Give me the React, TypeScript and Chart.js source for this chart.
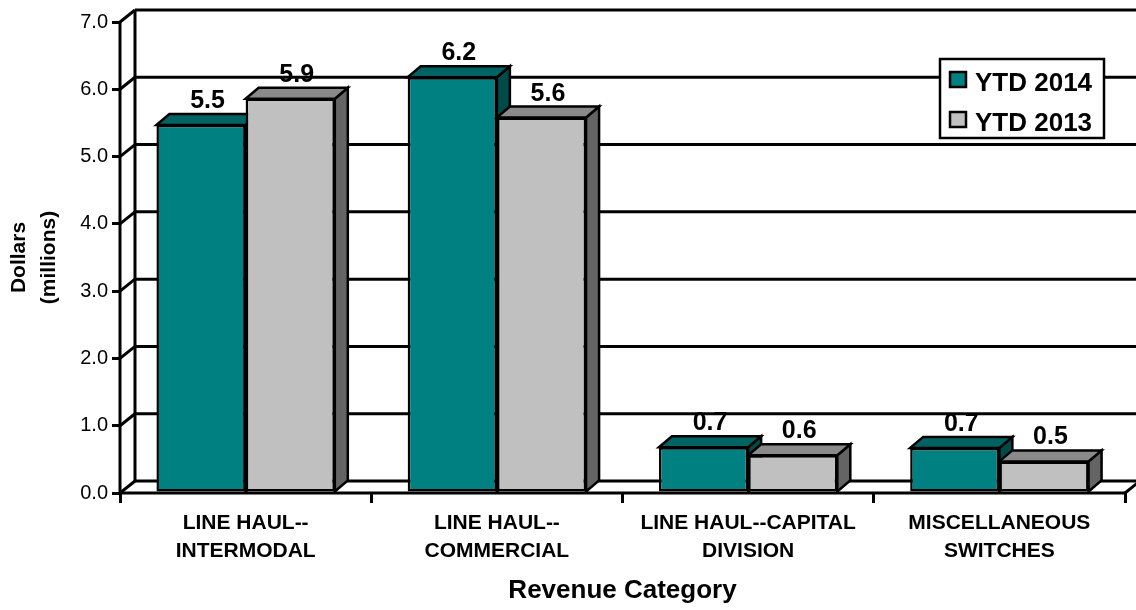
import React, { useEffect, useRef } from 'react';
import { Chart, registerables } from 'chart.js';

Chart.register(...registerables);

const categories = [
  ['LINE HAUL--', 'INTERMODAL'],
  ['LINE HAUL--', 'COMMERCIAL'],
  ['LINE HAUL--CAPITAL', 'DIVISION'],
  ['MISCELLANEOUS', 'SWITCHES'],
];
const seriesNames = ['YTD 2014', 'YTD 2013'];
const ytd2014 = [5.47, 6.18, 0.68, 0.67];
const ytd2013 = [5.86, 5.58, 0.56, 0.47];
const yTicks = [0, 1, 2, 3, 4, 5, 6, 7];

const FONT = '"Liberation Sans", Arial, Helvetica, sans-serif';
const FRONT = ['#008080', '#C0C0C0'];
const TOPC = ['#006363', '#8a8a8a'];
const SIDEC = ['#004a4a', '#646464'];
const WALL_DX = 15;
const WALL_DY = -12;
const BAR_DX = 13;
const BAR_DY = -11;

const threeD = {
  id: 'threeD',
  beforeDatasetsDraw(chart: any) {
    const ctx = chart.ctx;
    const { left, right, bottom } = chart.chartArea;
    const ys = chart.scales.y;
    ctx.save();
    ctx.strokeStyle = '#000';
    ctx.lineWidth = 3;
    const line = (x1: number, y1: number, x2: number, y2: number) => {
      ctx.beginPath();
      ctx.moveTo(x1, y1);
      ctx.lineTo(x2, y2);
      ctx.stroke();
    };
    const topPx = ys.getPixelForValue(yTicks[yTicks.length - 1]);
    for (const v of yTicks) {
      const py = ys.getPixelForValue(v);
      line(left, py, left + WALL_DX, py + WALL_DY);
      line(left + WALL_DX, py + WALL_DY, chart.width + 10, py + WALL_DY);
    }
    line(left + WALL_DX, topPx + WALL_DY, left + WALL_DX, bottom + WALL_DY);
    line(left, topPx, left, bottom);
    line(left, bottom, right, bottom);
    line(right, bottom, right + WALL_DX, bottom + WALL_DY);

    ctx.lineWidth = 2.5;
    ctx.lineJoin = 'miter';
    const n = categories.length;
    for (let i = 0; i < n; i++) {
      for (let d = 0; d < chart.data.datasets.length; d++) {
        const el = chart.getDatasetMeta(d).data[i];
        const { x, y, width, base } = el.getProps(['x', 'y', 'width', 'base'], true);
        const l = x - width / 2;
        const r = x + width / 2;
        ctx.beginPath();
        ctx.moveTo(r, y);
        ctx.lineTo(r + BAR_DX, y + BAR_DY);
        ctx.lineTo(r + BAR_DX, base + BAR_DY);
        ctx.lineTo(r, base);
        ctx.closePath();
        ctx.fillStyle = SIDEC[d];
        ctx.fill();
        ctx.stroke();
        ctx.beginPath();
        ctx.moveTo(l, y);
        ctx.lineTo(l + BAR_DX, y + BAR_DY);
        ctx.lineTo(r + BAR_DX, y + BAR_DY);
        ctx.lineTo(r, y);
        ctx.closePath();
        ctx.fillStyle = TOPC[d];
        ctx.fill();
        ctx.stroke();
      }
    }
    ctx.restore();
  },
  afterDatasetsDraw(chart: any) {
    const ctx = chart.ctx;
    ctx.save();
    ctx.fillStyle = '#000';
    ctx.font = `bold 25px ${FONT}`;
    ctx.textAlign = 'center';
    ctx.textBaseline = 'alphabetic';
    chart.data.datasets.forEach((ds: any, d: number) => {
      chart.getDatasetMeta(d).data.forEach((el: any, i: number) => {
        const { x, y } = el.getProps(['x', 'y'], true);
        ctx.fillText(Number(ds.data[i]).toFixed(1), x + BAR_DX / 2, y + BAR_DY - 6);
      });
    });
    ctx.restore();
  },
  afterDraw(chart: any) {
    const ctx = chart.ctx;
    const { right, top } = chart.chartArea;
    const bx = right - 185;
    const by = top + 37;
    const bw = 164;
    const bh = 79;
    ctx.save();
    ctx.fillStyle = '#fff';
    ctx.fillRect(bx, by, bw, bh);
    ctx.strokeStyle = '#000';
    ctx.lineWidth = 2.5;
    ctx.strokeRect(bx, by, bw, bh);
    ctx.font = `bold 26px ${FONT}`;
    ctx.textAlign = 'left';
    ctx.textBaseline = 'alphabetic';
    chart.data.datasets.forEach((ds: any, d: number) => {
      const sy = by + 13 + d * 40;
      ctx.fillStyle = FRONT[d];
      ctx.fillRect(bx + 10, sy, 16, 15);
      ctx.strokeRect(bx + 10, sy, 16, 15);
      ctx.fillStyle = '#000';
      ctx.fillText(ds.label, bx + 35, sy + 19);
    });
    ctx.restore();
  },
};

export default function App() {
  const ref = useRef<HTMLCanvasElement | null>(null);
  useEffect(() => {
    document.body.style.margin = '0';
    const canvas = ref.current;
    if (!canvas) return;
    const chart = new Chart(canvas, {
      type: 'bar',
      data: {
        labels: categories,
        datasets: [
          {
            label: seriesNames[0],
            data: ytd2014,
            backgroundColor: FRONT[0],
            borderColor: '#000',
            borderWidth: 2.5,
            borderSkipped: false,
          },
          {
            label: seriesNames[1],
            data: ytd2013,
            backgroundColor: FRONT[1],
            borderColor: '#000',
            borderWidth: 2.5,
            borderSkipped: false,
          },
        ],
      },
      options: {
        responsive: false,
        animation: false,
        layout: { padding: { left: 0, right: 11, top: 22, bottom: 0 } },
        datasets: { bar: { categoryPercentage: 0.71, barPercentage: 1 } },
        plugins: { legend: { display: false }, tooltip: { enabled: false } },
        scales: {
          x: {
            afterFit: (s: any) => {
              s.height = 117;
            },
            border: { display: false },
            grid: {
              drawOnChartArea: false,
              drawTicks: true,
              tickLength: 10,
              color: '#000',
              lineWidth: 3,
            },
            ticks: {
              color: '#000',
              padding: 6,
              maxRotation: 0,
              autoSkip: false,
              font: { family: FONT, size: 21, weight: 'bold', lineHeight: 28 / 21 },
            },
            title: {
              display: true,
              text: 'Revenue Category',
              color: '#000',
              font: { family: FONT, size: 26, weight: 'bold', lineHeight: 1.2 },
              padding: { top: 0, bottom: 3.5 },
            },
          },
          y: {
            min: 0,
            max: 7,
            afterFit: (s: any) => {
              s.width = 120;
            },
            afterBuildTicks: (s: any) => {
              s.ticks = yTicks.map((v) => ({ value: v }));
            },
            border: { display: false },
            grid: {
              drawOnChartArea: false,
              drawTicks: true,
              tickLength: 8,
              color: '#000',
              lineWidth: 3,
            },
            ticks: {
              color: '#000',
              padding: 4,
              font: { family: FONT, size: 20 },
              callback: (v: any) => Number(v).toFixed(1),
            },
            title: {
              display: true,
              text: ['Dollars', '(millions)'],
              color: '#000',
              font: { family: FONT, size: 21, weight: 'bold', lineHeight: 30 / 21 },
              padding: { top: 4, bottom: 0 },
            },
          },
        },
      },
      plugins: [threeD],
    });
    return () => chart.destroy();
  }, []);
  return (
    <div style={{ width: 1136, height: 610, background: '#fff' }}>
      <canvas ref={ref} width={1136} height={610} style={{ display: 'block' }} />
    </div>
  );
}
